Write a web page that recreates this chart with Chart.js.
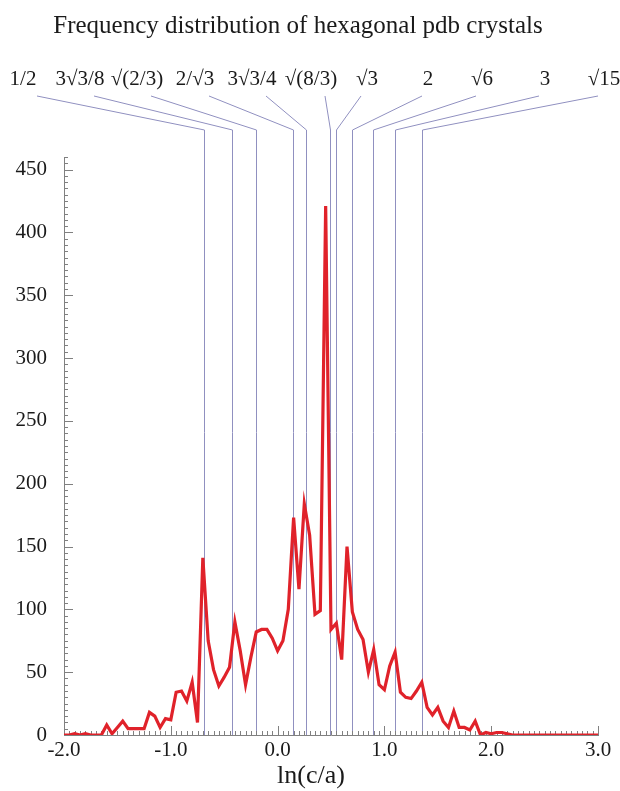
<!DOCTYPE html>
<html>
<head>
<meta charset="utf-8">
<script src="https://cdn.jsdelivr.net/npm/chart.js@4.4.1/dist/chart.umd.min.js"></script>
<style>
  html, body { margin: 0; padding: 0; background: #fff; }
  canvas { display: block; }
</style>
</head>
<body>
<canvas id="chart" width="620" height="791"></canvas>
<script>
'use strict';

// ***** DATA *****
let lnRatio = [
  -2.00, -1.95, -1.90, -1.85, -1.80, -1.75, -1.70, -1.65, -1.60, -1.55,
  -1.50, -1.45, -1.40, -1.35, -1.30, -1.25, -1.20, -1.15, -1.10, -1.05,
  -1.00, -0.95, -0.90, -0.85, -0.80, -0.75, -0.70, -0.65, -0.60, -0.55,
  -0.50, -0.45, -0.40, -0.35, -0.30, -0.25, -0.20, -0.15, -0.10, -0.05,
   0.00,  0.05,  0.10,  0.15,  0.20,  0.25,  0.30,  0.35,  0.40,  0.45,
   0.50,  0.55,  0.60,  0.65,  0.70,  0.75,  0.80,  0.85,  0.90,  0.95,
   1.00,  1.05,  1.10,  1.15,  1.20,  1.25,  1.30,  1.35,  1.40,  1.45,
   1.50,  1.55,  1.60,  1.65,  1.70,  1.75,  1.80,  1.85,  1.90,  1.95,
   2.00,  2.05,  2.10,  2.15,  2.20,  2.25,  2.30,  2.35,  2.40,  2.45,
   2.50,  2.55,  2.60,  2.65,  2.70,  2.75,  2.80,  2.85,  2.90,  2.95,
   3.00
];
let crystalCounts = [
    0,   0,   1,   0,   1,   0,   0,   0,   8,   1,
    6,  11,   5,   5,   5,   5,  18,  15,   6,  13,
   12,  34,  35,  27,  42,  10, 141,  75,  52,  39,
   46,  54,  90,  67,  40,  62,  82,  84,  84,  77,
   67,  75, 100, 173, 116, 184, 159,  96,  99, 421,
   84,  89,  60, 150,  98,  84,  76,  50,  68,  40,
   36,  55,  66,  34,  30,  29,  35,  42,  22,  16,
   22,  11,   6,  19,   6,   6,   4,  11,   0,   2,
    1,   2,   2,   1,   0,   0,   0,   0,   0,   0,
    0,   0,   0,   0,   0,   0,   0,   0,   0,   0,
    0
];

// ideal c/a ratios marked at the top
let refLabels = ['1/2', '3√3/8', '√(2/3)', '2/√3', '3√3/4', '√(8/3)', '√3', '2', '√6', '3', '√15'];
let refRatios = [1 / 2, 3 * Math.sqrt(3) / 8, Math.sqrt(2 / 3), 2 / Math.sqrt(3), 3 * Math.sqrt(3) / 4,
                 Math.sqrt(8 / 3), Math.sqrt(3), 2, Math.sqrt(6), 3, Math.sqrt(15)];

let xTicks = [-2, -1, 0, 1, 2, 3];
let yTicks = [0, 50, 100, 150, 200, 250, 300, 350, 400, 450];
let xMinorStep = 0.05;
let yMinorStep = 5;

// ***** LAYOUT *****
let serif = '"Liberation Serif", "Times New Roman", serif';
let labelCenters = [23, 80, 137, 195, 252, 311, 367, 428, 482, 545, 604];
let labelY = 79;
let leaderTop = 96;
let leaderElbow = 130;
let refColor = '#9090c0';
let axisColor = '#808080';

// ***** PLUGIN: ticks, reference lines, texts *****
let decorPlugin = {
  id: 'decor',
  beforeDatasetsDraw(chart) {
    let ctx = chart.ctx;
    let xs = chart.scales.x;
    let ys = chart.scales.y;
    let area = chart.chartArea;

    // reference lines with leaders
    ctx.save();
    ctx.strokeStyle = refColor;
    ctx.lineWidth = 1;
    for (let i = 0; i < refRatios.length; i++) {
      let px = Math.round(xs.getPixelForValue(Math.log(refRatios[i]))) + 0.5;
      ctx.beginPath();
      ctx.moveTo(labelCenters[i] + (px > labelCenters[i] ? 14 : -6), leaderTop);
      ctx.lineTo(px, leaderElbow);
      ctx.lineTo(px, area.bottom);
      ctx.stroke();
    }
    ctx.restore();

    // minor / major ticks on the inside
    ctx.save();
    ctx.strokeStyle = axisColor;
    ctx.lineWidth = 1;
    ctx.beginPath();
    for (let v = ys.min; v <= ys.max + 0.001; v += yMinorStep) {
      let py = Math.round(ys.getPixelForValue(v)) + 0.5;
      let len = (Math.round(v) % 50 === 0) ? 9 : 4;
      ctx.moveTo(area.left, py);
      ctx.lineTo(area.left + len, py);
    }
    for (let k = 0; k <= Math.round((xs.max - xs.min) / xMinorStep); k++) {
      let v = xs.min + k * xMinorStep;
      let px = Math.round(xs.getPixelForValue(v)) + 0.5;
      let len = (k % 20 === 0) ? 9 : 4;
      ctx.moveTo(px, area.bottom);
      ctx.lineTo(px, area.bottom - len);
    }
    ctx.stroke();
    ctx.restore();
  },
  afterDraw(chart) {
    let ctx = chart.ctx;
    ctx.save();
    ctx.fillStyle = '#1a1a1a';
    ctx.textAlign = 'center';
    ctx.textBaseline = 'middle';
    ctx.font = '25px ' + serif;
    ctx.fillText('Frequency distribution of hexagonal pdb crystals', 298, 26);
    ctx.font = '21px ' + serif;
    for (let i = 0; i < refLabels.length; i++) {
      ctx.fillText(refLabels[i], labelCenters[i], labelY);
    }
    ctx.font = '26px ' + serif;
    ctx.fillText('ln(c/a)', 311, 776);
    ctx.restore();
  }
};

// ***** CHART *****
let points = [];
for (let i = 0; i < lnRatio.length; i++) {
  points.push({ x: lnRatio[i], y: crystalCounts[i] });
}

let chartObj = {
  type: 'line',
  data: {
    datasets: [{
      label: 'count',
      data: points,
      borderColor: '#e0222a',
      borderWidth: 3.2,
      pointRadius: 0,
      tension: 0,
      fill: false
    }]
  },
  options: {
    responsive: false,
    animation: false,
    devicePixelRatio: 1,
    layout: { padding: { top: 157, right: 22, left: 0, bottom: 0 } },
    plugins: {
      legend: { display: false },
      tooltip: { enabled: false },
      title: { display: false }
    },
    scales: {
      x: {
        type: 'linear',
        min: -2,
        max: 3,
        afterBuildTicks: (scale) => { scale.ticks = xTicks.map(v => ({ value: v })); },
        afterFit: (scale) => { scale.height = 56; },
        grid: { display: false, drawTicks: false },
        border: { display: true, color: axisColor, width: 1 },
        ticks: {
          padding: 3,
          color: '#1a1a1a',
          font: { family: serif, size: 21 },
          maxRotation: 0,
          callback: (v) => v.toFixed(1)
        }
      },
      y: {
        min: 0,
        max: 460,
        afterBuildTicks: (scale) => { scale.ticks = yTicks.map(v => ({ value: v })); },
        afterFit: (scale) => { scale.width = 64; },
        grid: { display: false, drawTicks: false },
        border: { display: true, color: axisColor, width: 1 },
        ticks: {
          padding: 17,
          color: '#1a1a1a',
          font: { family: serif, size: 21 }
        }
      }
    }
  },
  plugins: [decorPlugin]
};

new Chart(document.getElementById('chart'), chartObj);
</script>
</body>
</html>
